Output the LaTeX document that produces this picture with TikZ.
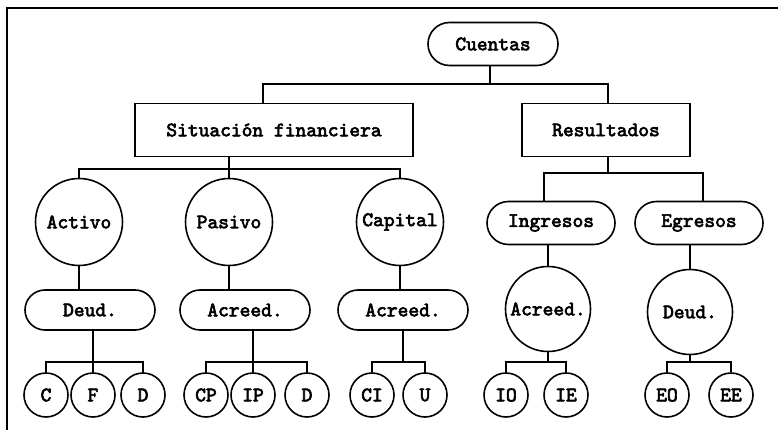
\documentclass[tikz,border=0pt]{standalone}
\usepackage{fontspec}
\newfontfamily\lmtb{lmmono10-regular.otf}[FakeBold=3]
\usetikzlibrary{shapes.misc}
\begin{document}
\begin{tikzpicture}[x=1pt,y=-1pt,line width=1.6pt,
  every node/.style={font=\lmtb\fontsize{20.5}{22}\selectfont, inner sep=0pt},
  box/.style={draw, rectangle, minimum height=53pt},
  pill/.style={draw, rounded rectangle, minimum height=43pt},
  lowpill/.style={draw, rounded rectangle, minimum height=40pt, minimum width=130pt},
  bigc/.style={draw, circle, minimum size=85pt},
  smallc/.style={draw, circle, minimum size=44pt}]
\useasboundingbox (0,0) rectangle (778,430);
\draw[line width=2.4pt] (7,430) -- (7,8) -- (778,8);

\node[pill, minimum width=130pt] (cuentas) at (493,44) {Cuentas};
\node[box, minimum width=278pt] (sf) at (274,130) {Situación financiera};
\node[box, minimum width=168pt] (res) at (606,130) {Resultados};

\node[bigc, minimum size=87pt] (activo) at (79,222) {Activo};
\node[bigc, minimum size=87pt] (pasivo) at (229,222) {Pasivo};
\node[bigc, minimum size=87pt] (capital) at (400,222) {Capital};
\node[pill, minimum width=128pt] (ingresos) at (551,223) {Ingresos};
\node[pill, minimum width=128pt] (egresos) at (699,223) {Egresos};

\node[lowpill] (deud1) at (90,310) {Deud.\hspace{56pt}};
\node[lowpill] (acr1) at (245,310) {Acreed.\hspace{22pt}};
\node[lowpill] (acr2) at (403,310) {Acreed.};
\node[bigc] (acr3) at (548,309) {Acreed.};
\node[bigc] (deud2) at (690,312) {Deud.};

\node[smallc] (c) at (46,395) {C};
\node[smallc] (f) at (93,395) {F};
\node[smallc] (d1) at (143,395) {D};
\node[smallc] (cp) at (206,395) {CP};
\node[smallc] (ip) at (253,395) {IP};
\node[smallc] (d2) at (307,395) {D};
\node[smallc] (ci) at (372,395) {CI};
\node[smallc] (u) at (425,395) {U};
\node[smallc] (io) at (506,395) {IO};
\node[smallc] (ie) at (566,395) {IE};
\node[smallc] (eo) at (667,395) {EO};
\node[smallc] (ee) at (731,395) {EE};

\coordinate (b1) at (490,84);
\coordinate (b2) at (229,169);
\coordinate (b3) at (608,173);
\coordinate (g1) at (93,362);
\coordinate (g2) at (253,362);
\coordinate (g3) at (403,362);
\coordinate (g4) at (545,362);
\coordinate (g5) at (691,362);

% level 1
\draw (cuentas.south -| b1) -- (b1);
\draw ([xshift=-11pt]sf.north) |- (b1) -| ([xshift=2pt]res.north);
% level 2
\draw (b2 |- sf.south) -- (pasivo.north);
\draw (activo.north) |- (b2) -| (capital.north);
\draw (b3 |- res.south) -- (b3);
\draw ([xshift=-7pt]ingresos.north) |- (b3) -| ([xshift=4pt]egresos.north);
% level 3
\draw (activo.south) -- (activo.south |- deud1.north);
\draw (pasivo.south) -- (pasivo.south |- acr1.north);
\draw (capital.south) -- (capital.south |- acr2.north);
\draw (acr3.north |- ingresos.south) -- (acr3.north);
\draw (deud2.north |- egresos.south) -- (deud2.north);
% level 4
\draw (g1 |- deud1.south) -- (f.north);
\draw (c.north) |- (g1) -| (d1.north);
\draw (g2 |- acr1.south) -- (ip.north);
\draw (cp.north) |- (g2) -| (d2.north);
\draw (g3 |- acr2.south) -- (g3);
\draw (ci.north) |- (g3) -| (u.north);
\draw (acr3.south) -- (acr3.south |- g4);
\draw (io.north) |- (g4) -| (ie.north);
\draw (deud2.south) -- (deud2.south |- g5);
\draw (eo.north) |- (g5) -| (ee.north);
\end{tikzpicture}
\end{document}
